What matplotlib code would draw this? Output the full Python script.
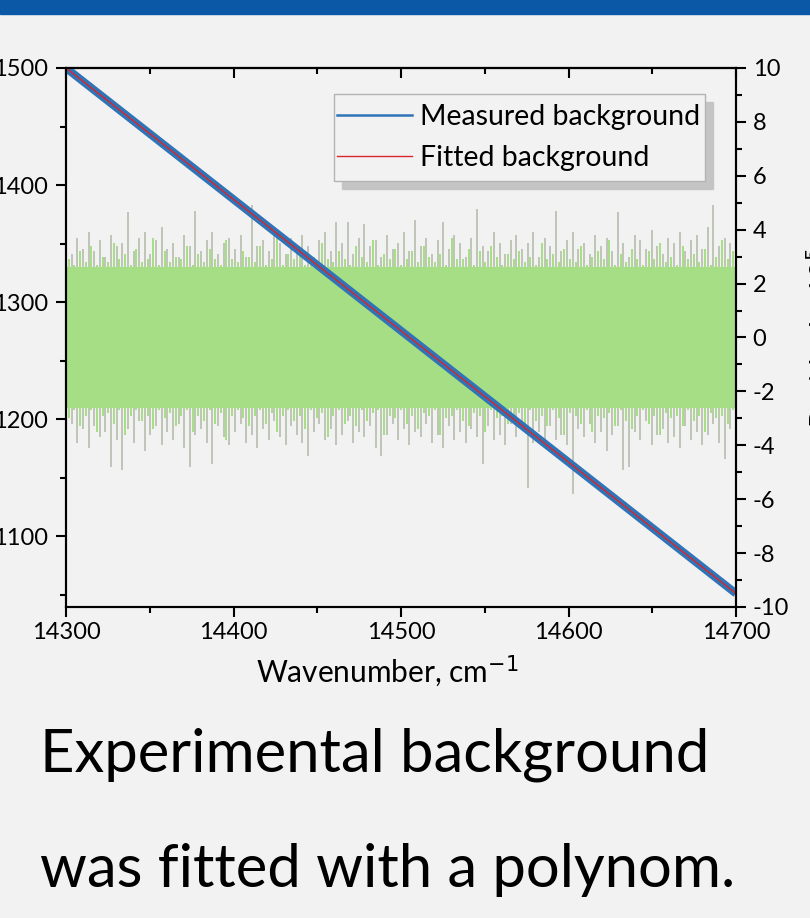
import numpy as np
import matplotlib
matplotlib.use("Agg")
import matplotlib.pyplot as plt
from matplotlib.lines import Line2D
from matplotlib.patches import Rectangle
from matplotlib.ticker import MultipleLocator

plt.rcParams['font.family'] = ['Lato', 'DejaVu Sans']
plt.rcParams['axes.unicode_minus'] = False

# ejes
wn_lim = [14300, 14700]
wn_ticks = [14300, 14400, 14500, 14600, 14700]
bg_lim = [1039.5, 1500]
bg_ticks = [1100, 1200, 1300, 1400, 1500]
res_lim = [-10, 10]
res_ticks = [-10, -8, -6, -4, -2, 0, 2, 4, 6, 8, 10]

# fondo medido y ajustado (recta, extremos leidos)
bg_wn = [14300, 14700]
bg_measured = [1500, 1051]
bg_fitted = [1500, 1051]

# residuos: picos exteriores (gris) e interiores (verde), leidos a ojo
res_up = [3.4, 3.1, 3.7, 3.3, 3.9, 3.2, 3.6, 3.0, 3.8, 3.4,
          3.5, 4.65, 3.2, 3.7, 3.9, 3.1, 3.6, 4.1, 3.3, 3.5,
          3.0, 3.8, 3.4, 4.7, 3.2, 3.6, 3.9, 3.1, 3.5, 3.7,
          3.3, 3.8, 3.0, 4.9, 3.4, 3.6, 3.2, 3.9, 3.5, 3.1,
          3.7, 3.3, 3.8, 3.4, 3.0, 3.6, 3.9, 3.2, 4.3, 3.5,
          4.3, 3.1, 3.7, 4.2, 3.4, 3.6, 3.0, 3.8, 3.3, 3.5,
          3.9, 3.2, 4.35, 3.4, 3.7, 3.1, 3.6, 4.3, 3.3, 3.8,
          3.5, 3.0, 3.7, 4.75, 3.4, 3.2, 3.9, 3.5, 3.1, 3.6,
          3.8, 3.3, 3.5, 3.9, 3.0, 3.7, 3.4, 4.7, 3.2, 3.6,
          3.9, 3.3, 3.5, 3.1, 3.8, 3.4, 3.7, 3.2, 4.65, 3.5,
          3.0, 3.8, 3.6, 3.3, 4.0, 3.4, 3.1, 3.7, 3.5, 3.9,
          3.2, 3.6, 3.8, 3.3, 4.1, 4.9, 3.4, 3.7, 3.5, 3.6]
res_low = [-3.6, -3.2, -3.9, -3.4, -4.1, -3.3, -3.7, -3.5, -4.8, -3.8,
           -4.9, -3.4, -3.9, -3.1, -4.2, -3.6, -3.3, -4.0, -3.5, -3.8,
           -3.2, -4.1, -4.8, -3.6, -3.4, -3.9, -4.7, -3.3, -3.7, -4.0,
           -3.5, -3.2, -3.9, -3.6, -4.1, -3.4, -3.8, -3.1, -3.7, -4.0,
           -3.3, -3.6, -3.9, -4.4, -3.5, -3.2, -3.8, -3.4, -4.0, -3.6,
           -3.1, -3.9, -3.5, -3.7, -3.3, -4.1, -4.4, -3.6, -3.2, -3.8,
           -3.4, -4.0, -3.5, -3.7, -3.2, -3.9, -3.6, -4.1, -3.3, -3.8,
           -3.5, -3.9, -3.4, -3.7, -4.7, -3.3, -3.8, -3.6, -4.0, -3.2,
           -3.7, -3.4, -5.6, -3.9, -3.5, -4.1, -3.3, -3.8, -3.6, -4.0,
           -5.8, -3.4, -3.7, -3.2, -3.9, -3.5, -4.2, -3.6, -3.3, -4.9,
           -4.8, -3.5, -3.8, -3.1, -4.0, -3.6, -3.4, -3.9, -3.7, -4.1,
           -3.3, -3.8, -3.5, -4.0, -3.6, -3.2, -3.9, -4.5, -3.4, -3.7]
res_up_in = [2.9, 2.7, 3.2, 2.8, 3.4, 2.7, 3.0, 2.8, 3.5, 2.9,
             3.1, 2.7, 3.3, 2.8, 2.9, 3.7, 2.7, 3.2, 2.8, 3.0,
             2.9, 3.4, 2.7, 3.1, 2.8, 3.3, 2.9, 2.7, 3.6, 2.9,
             2.8, 3.2, 3.0, 2.8, 3.4, 2.7, 2.9, 3.8, 2.7, 3.1,
             2.9, 3.3, 2.7, 3.0, 2.8, 3.5, 2.9, 2.8, 3.2, 2.9,
             2.7, 3.4, 3.0, 2.8, 3.6, 2.7, 3.1, 2.9, 3.3, 2.7,
             2.9, 3.2, 2.8, 3.4, 3.0, 2.8, 3.1, 2.7, 3.7, 2.9,
             2.9, 3.3, 2.7, 3.2, 2.8, 3.4, 3.0, 2.7, 3.1, 2.9,
             3.2, 2.8, 3.0, 2.7, 3.5, 2.9, 3.1, 2.8, 3.3, 2.9,
             2.8, 3.4, 2.7, 3.0, 3.2, 2.9, 3.6, 2.7, 3.1, 2.8,
             3.3, 2.9, 2.7, 3.2, 2.9, 3.5, 2.8, 3.0, 2.7, 3.4,
             2.9, 3.1, 2.8, 3.3, 2.7, 3.0, 3.6, 2.9, 3.2, 2.9]
res_low_in = [-3.0, -2.7, -3.3, -2.9, -2.7, -3.5, -2.9, -2.8, -3.2, -2.7,
              -3.6, -2.9, -2.7, -3.1, -2.9, -3.4, -2.7, -3.0, -2.8, -3.3,
              -2.9, -2.7, -3.5, -2.9, -3.1, -2.7, -3.2, -2.8, -3.8, -2.9,
              -2.7, -3.0, -3.3, -2.9, -2.7, -3.2, -2.8, -3.5, -2.9, -2.7,
              -3.1, -2.9, -3.4, -2.7, -3.0, -2.8, -3.7, -2.9, -2.7, -3.2,
              -2.9, -3.3, -2.7, -3.1, -2.8, -2.7, -3.6, -2.9, -3.0, -2.7,
              -3.2, -2.9, -3.4, -2.8, -2.9, -2.7, -3.6, -3.0, -2.9, -2.7,
              -3.1, -3.3, -2.8, -2.9, -3.5, -2.7, -3.0, -2.9, -3.2, -2.9,
              -2.8, -3.4, -2.7, -3.1, -2.9, -3.3, -2.7, -3.0, -3.6, -2.8,
              -2.9, -3.2, -2.7, -3.5, -2.9, -3.0, -2.8, -3.3, -2.7, -3.1,
              -3.4, -2.9, -2.7, -3.2, -2.9, -3.6, -2.8, -3.0, -2.9, -3.3,
              -2.7, -3.1, -2.9, -3.5, -2.8, -3.0, -2.9, -3.2, -2.7, -2.9]
res_core = 2.6

fondo = '#f2f2f2'
azul = '#2f74b7'
rojo = '#d9262b'
verde = '#a6de86'
gris = '#b0b8a6'


def posiciones(n, desfase=0.0):
    xs = np.linspace(wn_lim[0], wn_lim[1], n)
    paso = xs[1] - xs[0]
    return np.clip(xs + desfase * paso, wn_lim[0], wn_lim[1])


fig = plt.figure(figsize=(8.1, 9.18), dpi=100, facecolor=fondo)
ax = fig.add_axes([66 / 810, 1 - 607 / 918, 670 / 810, 539 / 918])
ax2 = ax.twinx()

# residuos (eje derecho): picos verticales, el nucleo verde tapa el centro
ax2.vlines(posiciones(len(res_up)), res_low, res_up, color=gris, lw=1.1, zorder=2)
ax2.vlines(posiciones(len(res_up_in), 0.5), res_low_in, res_up_in, color=verde, lw=1.4, zorder=2.1)
ax2.fill_between(wn_lim, [-res_core, -res_core], [res_core, res_core], color=verde, lw=0, zorder=2.2)
ax2.set_ylim(res_lim)
ax2.set_yticks(res_ticks)
ax2.yaxis.set_minor_locator(MultipleLocator(1))
ax2.set_ylabel('Residuals, 10$^{5}$', fontsize=21, labelpad=11)

# fondo (eje izquierdo), encima de los residuos
ax.set_zorder(ax2.get_zorder() + 1)
ax.patch.set_visible(False)
ax2.patch.set_visible(False)
ax.plot(bg_wn, bg_measured, color=azul, lw=5.8, solid_capstyle='butt')
ax.plot(bg_wn, bg_fitted, color=rojo, lw=1.0)
ax.set_xlim(wn_lim)
ax.set_ylim(bg_lim)
ax.set_xticks(wn_ticks)
ax.set_yticks(bg_ticks)
ax.xaxis.set_minor_locator(MultipleLocator(50))
ax.yaxis.set_minor_locator(MultipleLocator(50))
ax.set_xlabel('Wavenumber, cm$^{-1}$', fontsize=21.5)
ax.xaxis.set_label_coords(0.48, -0.085)

for a in (ax, ax2):
    for s in a.spines.values():
        s.set_linewidth(1.5)
ax.tick_params(axis='both', which='major', length=7, width=1.5, labelsize=17, direction='out')
ax.tick_params(axis='both', which='minor', length=4, width=1.5, direction='out')
ax.tick_params(axis='x', which='major', pad=4)
ax.tick_params(axis='y', which='major', pad=6)
ax2.tick_params(axis='y', which='major', length=7, width=1.5, labelsize=17, direction='out', pad=5)
ax2.tick_params(axis='y', which='minor', length=4.5, width=1.5, direction='out')

# ticks de arriba hacia dentro
arriba = ax.secondary_xaxis('top')
arriba.set_xticks(wn_ticks)
arriba.xaxis.set_minor_locator(MultipleLocator(50))
arriba.tick_params(which='major', direction='in', length=7, width=1.5, labeltop=False)
arriba.tick_params(which='minor', direction='in', length=4, width=1.5)
arriba.spines['top'].set_linewidth(1.5)

manejadores = [Line2D([], [], color=azul, lw=1.8, label='Measured background'),
               Line2D([], [], color=rojo, lw=1.0, label='Fitted background')]
leg = ax.legend(handles=manejadores, loc='center left',
                bbox_to_anchor=((337 - 66) / 670, (607 - 137.5) / 539),
                borderaxespad=0, borderpad=0, fontsize=20.5, handlelength=2.65,
                handletextpad=0.25, labelspacing=0.5, frameon=False)

# barra azul arriba
fig.patches.append(Rectangle((0, 1 - 14 / 918), 1, 14 / 918, transform=fig.transFigure,
                             color='#0b58a6', zorder=5))

fig.text(40 / 810, 1 - 772 / 918, 'Experimental background', fontsize=43, va='baseline')
fig.text(40 / 810, 1 - 887 / 918, 'was fitted with a polynom.', fontsize=43, va='baseline')

# marco y sombra de la leyenda
fig.canvas.draw()
bb = leg.get_window_extent()
cy = (bb.y0 + bb.y1) / 2
inv = fig.transFigure.inverted()
x0, y0 = inv.transform((bb.x0 - 3, cy - 43.5))
x1, y1 = inv.transform((bb.x1 + 5, cy + 43.5))
dx, dy = 8 / 810, 8 / 918
fig.patches.append(Rectangle((x0 + dx, y0 - dy), x1 - x0, y1 - y0, transform=fig.transFigure,
                             color='#c4c4c4', zorder=-2))
fig.patches.append(Rectangle((x0, y0), x1 - x0, y1 - y0, transform=fig.transFigure,
                             facecolor=fondo, edgecolor='#b4b4b4', lw=1.0, zorder=-1))

fig.savefig('out.png', dpi=100, facecolor=fondo)
